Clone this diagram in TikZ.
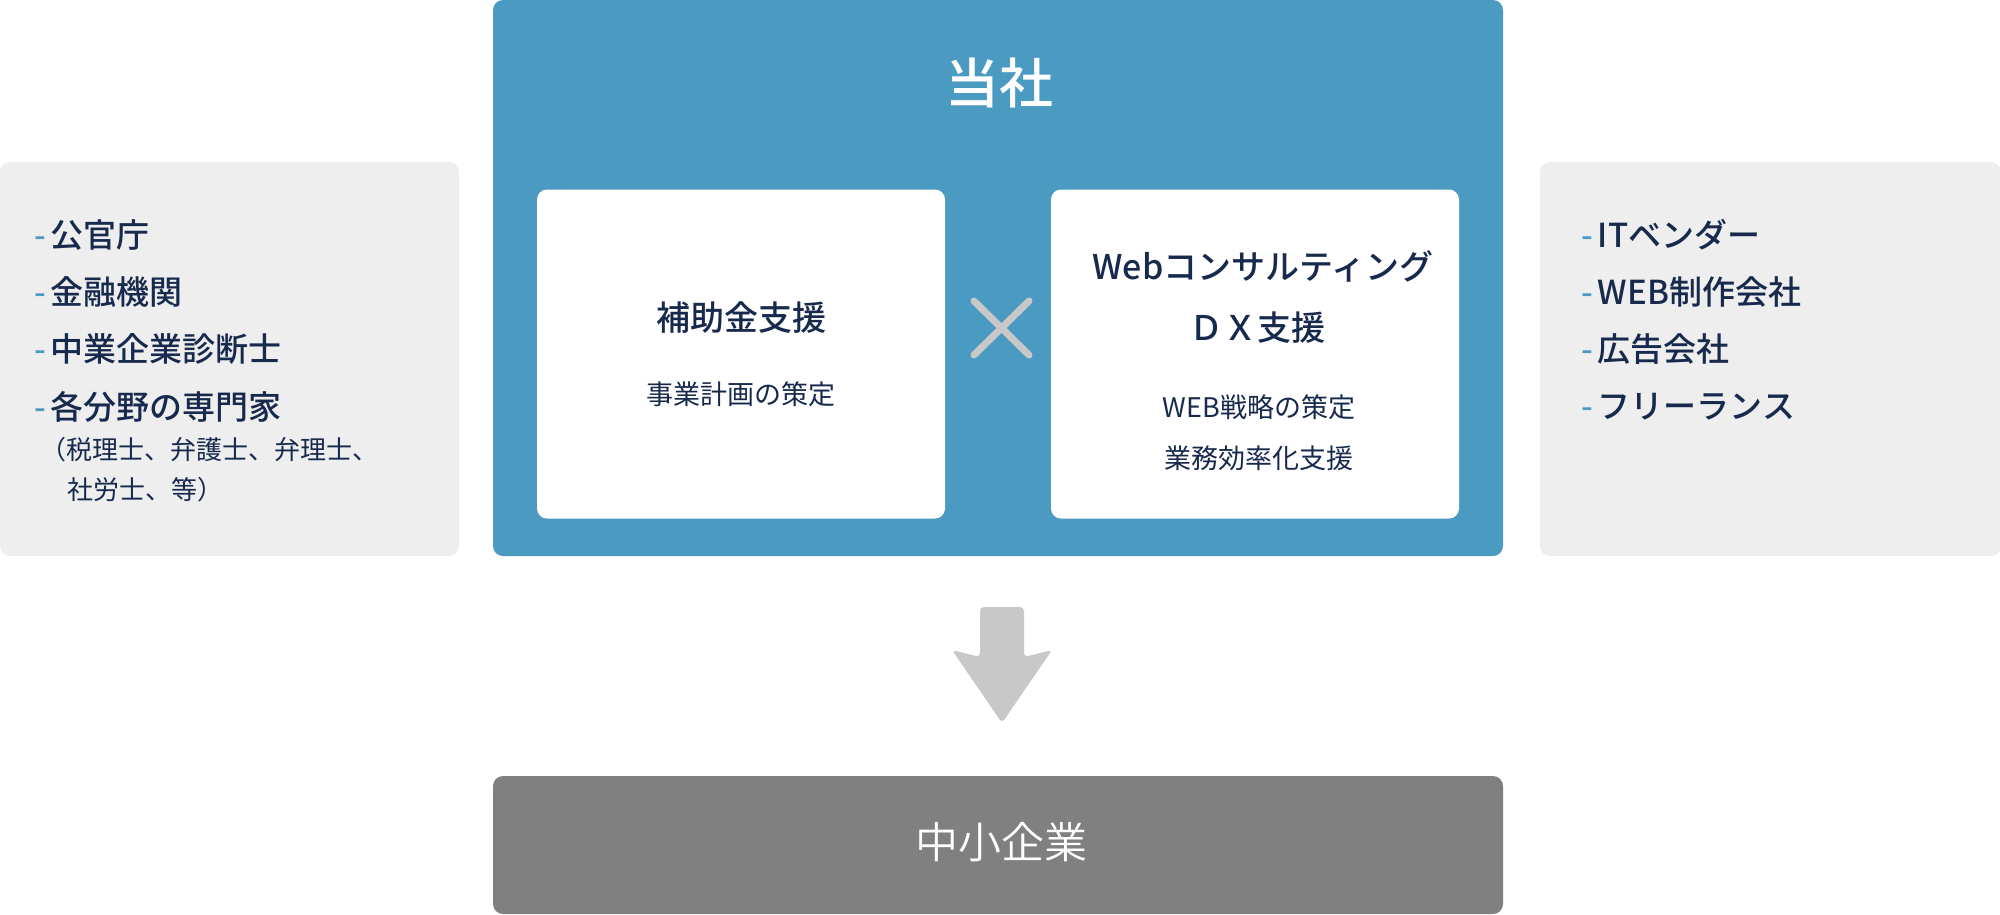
\documentclass[tikz,border=0pt]{standalone}
\usepackage{fontspec}
\usetikzlibrary{calc}
\setmainfont{Noto Sans CJK JP}[BoldFont={Noto Sans CJK JP Medium}]
\newfontfamily\jplight{Noto Sans CJK JP DemiLight}
\definecolor{kblue}{HTML}{4B9AC2}
\definecolor{knavy}{HTML}{172A4E}
\definecolor{klight}{HTML}{EEEEEE}
\definecolor{kdark}{HTML}{808080}
\definecolor{karrow}{HTML}{C8C8C8}
\begin{document}
\begin{tikzpicture}[x=1pt, y=-1pt,
  panel/.style={rounded corners=10pt, inner sep=0pt},
  item/.style={anchor=west, inner sep=0pt, text=knavy, font=\fontsize{33}{33}\selectfont\bfseries},
  note/.style={anchor=west, inner sep=0pt, text=knavy, font=\fontsize{26}{26}\selectfont},
  head/.style={inner sep=0pt, text=knavy, font=\fontsize{34}{34}\selectfont\bfseries},
  body/.style={inner sep=0pt, text=knavy, font=\fontsize{27}{27}\selectfont}]
\useasboundingbox (0,0) rectangle (2000,914);
\node[panel, fill=klight, minimum width=459pt, minimum height=394pt] (left) at (229.5,359){};
\node[panel, fill=klight, minimum width=461pt, minimum height=394pt] (right) at (1770.5,359){};
\node[panel, fill=kblue, minimum width=1010pt, minimum height=556pt] (us) at (998,278){};
\node[panel, fill=kdark, minimum width=1010pt, minimum height=138pt] (sme) at (998,845){};
\node[panel, fill=white, minimum width=408pt, minimum height=329pt] (sub) at (741,354){};
\node[panel, fill=white, minimum width=408pt, minimum height=329pt] (web) at (1255,354){};
% titles
\node[inner sep=0pt, text=white, font=\fontsize{54}{54}\selectfont\bfseries] (usl) at (999,83){当社};
\node[inner sep=0pt, text=white, font=\fontsize{43}{43}\selectfont\jplight] (smel) at (1001,842){中小企業};
\node[head] (sub1) at (741,318){補助金支援};
\node[body] (sub2) at (741,394){事業計画の策定};
\node[head] (web1) at (1263,266){Webコンサルティング};
\node[head] (web2) at (1257,328){ＤＸ支援};
\node[body] (web3) at (1259,407){WEB戦略の策定};
\node[body] (web4) at (1259,458){業務効率化支援};
% cross
\coordinate (x0) at (974,301);
\coordinate (x1) at (1029,355);
\coordinate (x2) at (974,355);
\coordinate (x3) at (1029,301);
\draw[karrow, line width=7pt, line cap=round] (x0) -- (x1);
\draw[karrow, line width=7pt, line cap=round] (x2) -- (x3);
% left list
\node[item] (l1) at (34,235){\textcolor{kblue}{-}\hspace{5pt}公官庁};
\node[item] (l2) at (34,292){\textcolor{kblue}{-}\hspace{5pt}金融機関};
\node[item] (l3) at (34,349){\textcolor{kblue}{-}\hspace{5pt}中業企業診断士};
\node[item] (l4) at (34,407){\textcolor{kblue}{-}\hspace{5pt}各分野の専門家};
\node[note] (l5) at (40,450){（税理士、弁護士、弁理士、};
\node[note] (l6) at (67,490){社労士、等）};
% right list
\node[item] (r1) at (1581,235){\textcolor{kblue}{-}\hspace{5pt}ITベンダー};
\node[item] (r2) at (1581,292){\textcolor{kblue}{-}\hspace{5pt}WEB制作会社};
\node[item] (r3) at (1581,349){\textcolor{kblue}{-}\hspace{5pt}広告会社};
\node[item] (r4) at (1581,407){\textcolor{kblue}{-}\hspace{5pt}フリーランス};
% arrow
\coordinate (atop) at (1002,607);
\coordinate (atip) at (1002,723);
\fill[karrow, rounded corners=4pt] ($(atop)+(-22,0)$) -- ($(atop)+(22,0)$) -- ($(atop)+(22,50)$)
  -- ($(atop)+(50,43)$) -- (atip) -- ($(atop)+(-50,43)$) -- ($(atop)+(-22,50)$) -- cycle;
\end{tikzpicture}
\end{document}
